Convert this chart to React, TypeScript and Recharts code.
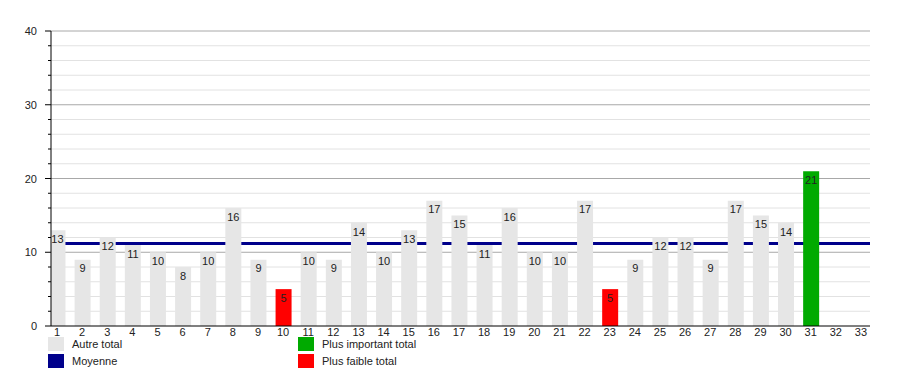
import React from 'react';
import { BarChart, Bar, XAxis, YAxis, ReferenceLine, LabelList, Cell } from 'recharts';

const jours = [1, 2, 3, 4, 5, 6, 7, 8, 9, 10, 11, 12, 13, 14, 15, 16, 17, 18, 19, 20, 21, 22, 23, 24, 25, 26, 27, 28, 29, 30, 31, 32, 33];
const totaux = [13, 9, 12, 11, 10, 8, 10, 16, 9, 5, 10, 9, 14, 10, 13, 17, 15, 11, 16, 10, 10, 17, 5, 9, 12, 12, 9, 17, 15, 14, 21, null, null];
const moyenne = 11.18;
const yTicks = [0, 2, 4, 6, 8, 10, 12, 14, 16, 18, 20, 22, 24, 26, 28, 30, 32, 34, 36, 38, 40];

const legendItems = [
  { label: 'Autre total', color: '#e6e6e6', col: 0, row: 0 },
  { label: 'Moyenne', color: '#00008b', col: 0, row: 1 },
  { label: 'Plus important total', color: '#00aa00', col: 1, row: 0 },
  { label: 'Plus faible total', color: '#ff0000', col: 1, row: 1 },
];

const data = jours.map((j, i) => ({ jour: j, total: totaux[i] }));
const valid = totaux.filter((v) => v != null) as number[];
const maxVal = Math.max(...valid);
const minVal = Math.min(...valid);

const font = '"Liberation Sans", Arial, sans-serif';
const xDomain = [0.76, 33.36];

const YTick = (props: any) => {
  const { x, y, payload } = props;
  const major = payload.value % 10 === 0;
  return (
    <g>
      <line x1={x - (major ? 6 : 3)} x2={x} y1={y} y2={y} stroke="#000" strokeWidth={1} />
      {major && (
        <text x={x - 14} y={y} dy={4} textAnchor="end" fontSize={11} fill="#222" fontFamily={font}>
          {payload.value}
        </text>
      )}
    </g>
  );
};

const layer = (z: number): React.CSSProperties => ({ position: 'absolute', left: 0, top: 0, zIndex: z });

export default function App() {
  return (
    <div style={{ position: 'absolute', left: 0, top: 0, width: 900, height: 375, background: '#fff', fontFamily: font }}>
      {/* fond : grille et moyenne, sous les barres */}
      <div style={layer(0)}>
        <BarChart width={900} height={375} data={data} margin={{ top: 31, right: 30, bottom: 29, left: 11 }}>
          <XAxis dataKey="jour" type="number" domain={xDomain} ticks={jours} allowDataOverflow height={20} tick={false} tickLine={false} axisLine={false} />
          <YAxis type="number" domain={[0, 40]} ticks={yTicks} interval={0} width={40} tick={false} tickLine={false} axisLine={false} />
          {yTicks.slice(1).map((t) => (
            <ReferenceLine key={t} y={t} stroke={t % 10 === 0 ? '#a8a8a8' : '#e2e2e2'} strokeWidth={1} />
          ))}
          <ReferenceLine y={moyenne} stroke="#00008b" strokeWidth={3} />
          <Bar dataKey="total" barSize={16} fill="transparent" isAnimationActive={false} />
        </BarChart>
      </div>
      {/* barres et axes */}
      <div style={layer(1)}>
        <BarChart width={900} height={375} data={data} margin={{ top: 31, right: 30, bottom: 29, left: 11 }}>
          <XAxis
            dataKey="jour"
            type="number"
            domain={xDomain}
            ticks={jours}
            interval={0}
            allowDataOverflow
            height={20}
            tickLine={false}
            tickSize={0}
            tickMargin={2}
            axisLine={{ stroke: '#000' }}
            tick={{ fontSize: 11, fill: '#222', fontFamily: font }}
          />
          <YAxis
            type="number"
            domain={[0, 40]}
            ticks={yTicks}
            interval={0}
            width={40}
            tickLine={false}
            tickSize={0}
            tickMargin={0}
            axisLine={{ stroke: '#000' }}
            tick={<YTick />}
          />
          <Bar dataKey="total" barSize={16} isAnimationActive={false}>
            {data.map((d, i) => (
              <Cell
                key={i}
                fill={d.total === maxVal ? '#00aa00' : d.total === minVal ? '#ff0000' : '#e6e6e6'}
              />
            ))}
            <LabelList dataKey="total" position="insideTop" offset={5} fontSize={11} fill="#222" fontFamily={font} />
          </Bar>
        </BarChart>
      </div>
      {legendItems.map((it) => (
        <div
          key={it.label}
          style={{
            position: 'absolute',
            left: 48 + it.col * 250,
            top: 337 + it.row * 17,
            display: 'flex',
            alignItems: 'center',
            fontSize: 11,
            color: '#222',
            zIndex: 2,
          }}
        >
          <div style={{ width: 16, height: 14, background: it.color, marginRight: 8 }} />
          <span>{it.label}</span>
        </div>
      ))}
    </div>
  );
}
